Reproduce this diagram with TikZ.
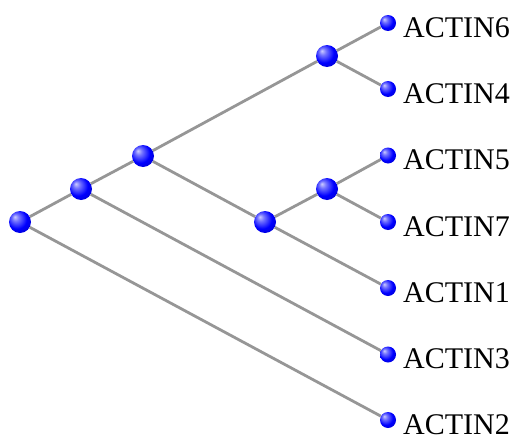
\documentclass[tikz,border=0pt]{standalone}
\usepackage{fontspec}
\newfontfamily\labfont{LiberationSerif-Regular.ttf}
\pgfdeclareradialshading{myball}{\pgfpoint{-12bp}{12bp}}{%
  color(0bp)=(white!80!blue);
  color(8bp)=(blue!55!white);
  color(22bp)=(blue);
  color(30bp)=(blue!88!black);
  color(50bp)=(blue!80!black)}
\begin{document}
\begin{tikzpicture}[x=1pt,y=-1pt,
  edge/.style={draw={rgb,255:red,150;green,150;blue,150},line width=2.8pt},
  inner/.style={circle,inner sep=0pt,minimum size=22pt,shading=myball},
  leaf/.style={circle,inner sep=0pt,minimum size=16pt,shading=myball},
  lab/.style={anchor=base west,inner sep=0pt,font=\labfont\fontsize{30}{36}\selectfont}]
\useasboundingbox (0,0) rectangle (522,447);
% leaves
\node[leaf] (l6) at (388,23) {};
\node[leaf] (l4) at (388,89) {};
\node[leaf] (l5) at (388,155.5) {};
\node[leaf] (l7) at (388,222) {};
\node[leaf] (l1) at (388,288) {};
\node[leaf] (l3) at (388,354.5) {};
\node[leaf] (l2) at (388,420) {};
% internal
\node[inner] (r) at (20,222) {};
\node[inner] (n2) at (81,189) {};
\node[inner] (n3) at (143,156) {};
\node[inner] (n4) at (327,56) {};
\node[inner] (n5) at (265,222) {};
\node[inner] (n6) at (327,189) {};
% edges
\draw[edge] (r) -- (n2);
\draw[edge] (r) -- (l2);
\draw[edge] (n2) -- (n3);
\draw[edge] (n2) -- (l3);
\draw[edge] (n3) -- (n4);
\draw[edge] (n3) -- (n5);
\draw[edge] (n4) -- (l6);
\draw[edge] (n4) -- (l4);
\draw[edge] (n5) -- (n6);
\draw[edge] (n5) -- (l1);
\draw[edge] (n6) -- (l5);
\draw[edge] (n6) -- (l7);
% labels
\node[lab] (t6) at (403,37) {ACTIN6};
\node[lab] (t4) at (403,103) {ACTIN4};
\node[lab] (t5) at (403,169.5) {ACTIN5};
\node[lab] (t7) at (403,236) {ACTIN7};
\node[lab] (t1) at (403,302) {ACTIN1};
\node[lab] (t3) at (403,368.5) {ACTIN3};
\node[lab] (t2) at (403,434) {ACTIN2};
\end{tikzpicture}
\end{document}
